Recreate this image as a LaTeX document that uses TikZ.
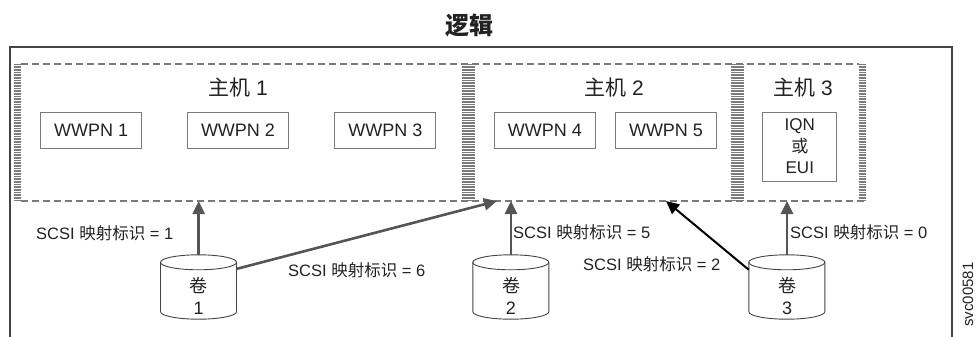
\documentclass[tikz,border=0pt]{standalone}
\usepackage{fontspec}
\setmainfont{Liberation Sans}
\newfontfamily\cjk{Noto Sans CJK SC}
\usetikzlibrary{arrows.meta,calc}
\definecolor{linegray}{HTML}{444444}
\definecolor{dashgray}{HTML}{7A7A7A}
\definecolor{arrgray}{HTML}{555555}
\definecolor{txt}{HTML}{222222}
\tikzset{
  outerline/.style={draw=linegray, line width=1.3pt},
  dashline/.style={draw=dashgray, line width=1.2pt, dash pattern=on 7pt off 4pt},
  hatchbar/.style={draw=dashgray, dash pattern=on 0.8pt off 0.8pt},
  hostlabel/.style={text=txt, font=\fontsize{21}{24}\selectfont, inner sep=0pt},
  wbox/.style={draw=dashgray, line width=0.9pt, minimum width=101pt, minimum height=36pt, inner sep=0pt, text=txt, font=\fontsize{18}{20}\selectfont},
  maplabel/.style={text=txt, font=\fontsize{16.5}{18}\selectfont, inner sep=0pt, anchor=west},
  volnode/.style={minimum width=76pt, minimum height=64pt, inner sep=0pt},
  voltext/.style={text=txt, font=\fontsize{18}{22}\selectfont, align=center, inner sep=0pt},
  volshape/.style={draw=linegray, line width=0.9pt, fill=white},
  grayarrow/.style={draw=arrgray, line width=2.6pt, -{Triangle[length=13pt,width=12pt]}},
  blackarrow/.style={draw=black, line width=2pt, -{Triangle[length=13pt,width=12pt]}},
}
\newcommand{\drawvol}[1]{%
  \path ($(#1.north west)+(0,7.5)$) coordinate (#1tl)
        ($(#1.south west)+(0,-7.5)$) coordinate (#1bl);
  \draw[volshape] (#1tl) -- (#1bl) arc[start angle=180, end angle=360, x radius=38pt, y radius=7.5pt]
    -- ($(#1tl)+(76,0)$) arc[start angle=0, end angle=180, x radius=38pt, y radius=7.5pt] -- cycle;
  \draw[volshape, fill=none] (#1tl) arc[start angle=180, end angle=360, x radius=38pt, y radius=7.5pt];
}
\begin{document}
\begin{tikzpicture}[x=1pt,y=-1pt]
\useasboundingbox (0,0) rectangle (978,337);
% title
\node[font=\cjk\bfseries\fontsize{24}{26}\selectfont, text=txt] (title) at (469,25) {逻辑};
% outer frame
\draw[outerline] (10,337) |- (952,47) -- (952,337);
% dashed host borders
\draw[dashline] (21,64) -- (859,64);
\draw[dashline] (21,201) -- (866,201);
\draw[hatchbar, line width=7pt] (17.5,64) -- (17.5,201);
\draw[hatchbar, line width=13pt] (468,64) -- (468,201);
\draw[hatchbar, line width=13pt] (737.5,64) -- (737.5,201);
\draw[hatchbar, line width=7pt] (862.5,64) -- (862.5,201);
% host labels
\node[hostlabel] (h1) at (238,88) {{\cjk 主机} 1};
\node[hostlabel] (h2) at (614,88) {{\cjk 主机} 2};
\node[hostlabel] (h3) at (803,88) {{\cjk 主机} 3};
% WWPN boxes
\node[wbox] (w1) at (91.2,130) {WWPN 1};
\node[wbox] (w2) at (238,130) {WWPN 2};
\node[wbox] (w3) at (385.3,130) {WWPN 3};
\node[wbox] (w4) at (544.8,130) {WWPN 4};
\node[wbox] (w5) at (666,130) {WWPN 5};
\node[wbox, minimum width=74pt, minimum height=69pt, align=center, font=\fontsize{17}{21.5}\selectfont] (iqn) at (799.8,146.5) {IQN\\{\cjk 或}\\EUI};
% volumes
\node[volnode] (v1) at (198.7,287) {};
\node[volnode] (v2) at (511,287) {};
\node[volnode] (v3) at (787,287) {};
\drawvol{v1}
\drawvol{v2}
\drawvol{v3}
\node[voltext] (v1t) at ($(v1)+(0,9)$) {{\cjk 卷}\\1};
\node[voltext] (v2t) at ($(v2)+(0,9)$) {{\cjk 卷}\\2};
\node[voltext] (v3t) at ($(v3)+(0,9)$) {{\cjk 卷}\\3};
% arrow targets
\coordinate (t1) at (198.7,201);
\coordinate (t6) at (497,201);
\coordinate (t5) at (511,201);
\coordinate (t2) at (666,201);
\coordinate (t0) at (787,201);
% connectors
\draw[grayarrow] (v1.north) -- (t1);
\draw[grayarrow] ($(v1.north east)+(0,14)$) -- (t6);
\draw[grayarrow] (v2.north) -- (t5);
\draw[blackarrow] ($(v3.north west)+(0,15)$) -- (t2);
\draw[grayarrow] (v3.north) -- (t0);
% labels
\node[maplabel] (l1) at (36,233) {SCSI {\cjk 映射标识} = 1};
\node[maplabel] (l6) at (288,270) {SCSI {\cjk 映射标识} = 6};
\node[maplabel] (l5) at (513,232) {SCSI {\cjk 映射标识} = 5};
\node[maplabel] (l2) at (583,264) {SCSI {\cjk 映射标识} = 2};
\node[maplabel] (l0) at (790,232) {SCSI {\cjk 映射标识} = 0};
% figure id
\node[rotate=90, text=txt, font=\fontsize{15}{17}\selectfont, inner sep=0pt] (id) at (968,294.5) {svc00581};
\end{tikzpicture}
\end{document}
